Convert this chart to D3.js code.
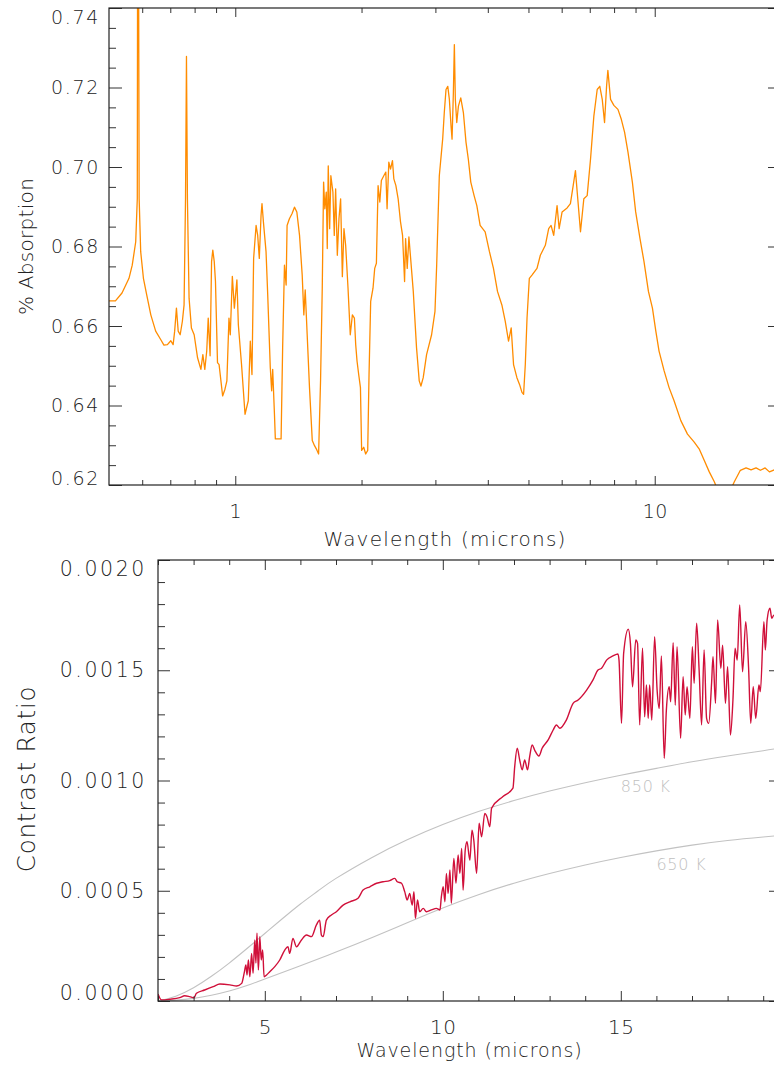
<!DOCTYPE html>
<html>
<head>
<meta charset="utf-8">
<script src="https://cdn.jsdelivr.net/npm/d3@7"></script>
<style>
  body { margin: 0; background: #fff; }
  svg text { font-family: "DejaVu Sans", sans-serif; font-weight: 200; }
</style>
</head>
<body>
<svg id="chart" width="774" height="1068"></svg>
<script>
// Upper panel: absorption spectrum, [wavelength (microns), fraction absorbed]
const absorptionSpectrum = [
  [0.500,0.6663],[0.518,0.6663],[0.537,0.6683],[0.558,0.6720],[0.568,0.6753],[0.579,0.6812],
  [0.584,0.6920],[0.586,0.8200],[0.590,0.6920],[0.595,0.6787],[0.604,0.6720],[0.615,0.6678],
  [0.629,0.6628],[0.646,0.6587],[0.664,0.6566],[0.676,0.6552],[0.689,0.6553],[0.702,0.6563],
  [0.711,0.6553],[0.717,0.6587],[0.724,0.6645],[0.731,0.6587],[0.739,0.6578],[0.748,0.6612],
  [0.755,0.6653],[0.761,0.6920],[0.765,0.7278],[0.769,0.6920],[0.776,0.6670],[0.786,0.6595],
  [0.798,0.6578],[0.813,0.6520],[0.828,0.6491],[0.837,0.6528],[0.846,0.6491],[0.855,0.6537],
  [0.862,0.6620],[0.871,0.6525],[0.878,0.6762],[0.884,0.6791],[0.891,0.6762],[0.897,0.6712],
  [0.907,0.6508],[0.915,0.6503],[0.933,0.6424],[0.945,0.6441],[0.955,0.6462],[0.966,0.6620],
  [0.973,0.6578],[0.984,0.6725],[0.995,0.6645],[1.009,0.6716],[1.017,0.6603],[1.035,0.6503],
  [1.055,0.6378],[1.074,0.6412],[1.086,0.6562],[1.096,0.6478],[1.106,0.6770],[1.121,0.6853],
  [1.131,0.6828],[1.141,0.6770],[1.152,0.6878],[1.158,0.6908],[1.167,0.6862],[1.184,0.6787],
  [1.195,0.6678],[1.212,0.6495],[1.221,0.6437],[1.228,0.6491],[1.240,0.6378],[1.246,0.6316],
  [1.286,0.6316],[1.297,0.6545],[1.310,0.6753],[1.322,0.6703],[1.329,0.6853],[1.346,0.6870],
  [1.366,0.6883],[1.384,0.6899],[1.402,0.6887],[1.423,0.6828],[1.444,0.6728],[1.457,0.6628],
  [1.468,0.6691],[1.484,0.6578],[1.503,0.6445],[1.526,0.6312],[1.545,0.6299],[1.560,0.6291],
  [1.580,0.6278],[1.597,0.6462],[1.612,0.6695],[1.624,0.6962],[1.635,0.6895],[1.648,0.6937],
  [1.657,0.6795],[1.666,0.7003],[1.679,0.6845],[1.690,0.6978],[1.709,0.6937],[1.722,0.6828],
  [1.735,0.6945],[1.751,0.6778],[1.767,0.6870],[1.783,0.6920],[1.800,0.6724],[1.816,0.6845],
  [1.833,0.6803],[1.857,0.6695],[1.880,0.6578],[1.902,0.6628],[1.923,0.6620],[1.937,0.6553],
  [1.951,0.6512],[1.969,0.6478],[1.988,0.6445],[2.001,0.6287],[2.024,0.6295],[2.046,0.6278],
  [2.069,0.6287],[2.084,0.6478],[2.103,0.6662],[2.130,0.6695],[2.150,0.6745],[2.170,0.6758],
  [2.190,0.6953],[2.211,0.6912],[2.230,0.6966],[2.260,0.6978],[2.285,0.6987],[2.301,0.6895],
  [2.323,0.7012],[2.345,0.6995],[2.370,0.7016],[2.388,0.6970],[2.415,0.6953],[2.445,0.6920],
  [2.477,0.6862],[2.505,0.6828],[2.533,0.6712],[2.547,0.6820],[2.570,0.6745],[2.594,0.6824],
  [2.657,0.6687],[2.705,0.6545],[2.745,0.6462],[2.771,0.6449],[2.806,0.6470],[2.858,0.6528],
  [2.938,0.6578],[2.993,0.6637],[3.021,0.6753],[3.065,0.6978],[3.122,0.7070],[3.150,0.7137],
  [3.180,0.7195],[3.211,0.7203],[3.239,0.7170],[3.269,0.7103],[3.287,0.7070],[3.311,0.7187],
  [3.329,0.7308],[3.347,0.7170],[3.373,0.7112],[3.404,0.7153],[3.448,0.7174],[3.498,0.7137],
  [3.549,0.7062],[3.594,0.7020],[3.643,0.6962],[3.710,0.6928],[3.766,0.6903],[3.835,0.6853],
  [3.942,0.6837],[4.036,0.6787],[4.126,0.6745],[4.218,0.6687],[4.321,0.6653],[4.401,0.6612],
  [4.482,0.6562],[4.548,0.6595],[4.607,0.6503],[4.693,0.6470],[4.761,0.6453],[4.825,0.6433],
  [4.868,0.6428],[4.914,0.6503],[4.961,0.6620],[5.024,0.6720],[5.097,0.6728],[5.240,0.6745],
  [5.337,0.6778],[5.485,0.6803],[5.587,0.6845],[5.661,0.6853],[5.743,0.6828],[5.850,0.6903],
  [5.917,0.6845],[6.014,0.6887],[6.182,0.6897],[6.295,0.6908],[6.391,0.6953],[6.471,0.6991],
  [6.554,0.6920],[6.653,0.6837],[6.776,0.6920],[6.902,0.6928],[7.030,0.7020],[7.159,0.7128],
  [7.292,0.7195],[7.397,0.7203],[7.497,0.7170],[7.592,0.7112],[7.677,0.7203],[7.732,0.7243],
  [7.847,0.7170],[7.991,0.7155],[8.171,0.7145],[8.324,0.7120],[8.476,0.7087],[8.636,0.7037],
  [8.845,0.6962],[9.007,0.6887],[9.223,0.6820],[9.428,0.6762],[9.660,0.6687],[9.875,0.6645],
  [10.06,0.6587],[10.24,0.6537],[10.53,0.6487],[10.82,0.6445],[11.12,0.6412],[11.54,0.6362],
  [11.97,0.6328],[12.42,0.6308],[12.76,0.6291],[13.12,0.6262],[13.49,0.6233],[13.87,0.6208],
  [14.60,0.6150],[15.48,0.6208],[16.00,0.6237],[16.51,0.6243],[16.97,0.6238],[17.44,0.6243],
  [17.86,0.6237],[18.33,0.6243],[18.77,0.6233],[19.29,0.6238],[20.00,0.6240]
];

// Lower panel: planet/star contrast ratio, [wavelength (microns), ratio]
const contrastSpectrum = [
  [2.00,0.000032],[2.10,0.000005],[2.33,0.000008],[2.61,0.000015],[2.75,0.000024],[2.89,0.000020],
  [3.01,0.000015],[3.08,0.000035],[3.31,0.000050],[3.55,0.000065],[3.74,0.000077],[4.02,0.000073],
  [4.21,0.000068],[4.35,0.000080],[4.42,0.000126],[4.47,0.000163],[4.50,0.000118],[4.54,0.000186],
  [4.58,0.000110],[4.63,0.000216],[4.67,0.000126],[4.72,0.000277],[4.75,0.000172],[4.78,0.000307],
  [4.82,0.000141],[4.86,0.000292],[4.90,0.000186],[4.94,0.000231],[4.98,0.000110],[5.05,0.000118],
  [5.14,0.000133],[5.28,0.000156],[5.42,0.000186],[5.56,0.000231],[5.65,0.000246],[5.70,0.000216],
  [5.79,0.000284],[5.89,0.000246],[6.03,0.000277],[6.17,0.000299],[6.31,0.000292],[6.45,0.000345],
  [6.54,0.000367],[6.59,0.000299],[6.64,0.000292],[6.73,0.000367],[6.87,0.000390],[7.01,0.000405],
  [7.20,0.000435],[7.39,0.000450],[7.62,0.000466],[7.76,0.000503],[7.95,0.000518],[8.14,0.000534],
  [8.32,0.000541],[8.51,0.000546],[8.65,0.000556],[8.72,0.000541],[8.84,0.000534],[8.93,0.000496],
  [9.00,0.000458],[9.07,0.000488],[9.14,0.000435],[9.19,0.000496],[9.23,0.000375],[9.29,0.000458],
  [9.35,0.000405],[9.45,0.000420],[9.54,0.000405],[9.68,0.000413],[9.82,0.000420],[9.92,0.000413],
  [9.96,0.000473],[10.01,0.000518],[10.06,0.000450],[10.10,0.000579],[10.15,0.000488],[10.20,0.000594],
  [10.24,0.000443],[10.31,0.000647],[10.37,0.000534],[10.43,0.000662],[10.48,0.000579],[10.53,0.000692],
  [10.57,0.000503],[10.63,0.000685],[10.68,0.000722],[10.76,0.000639],[10.82,0.000775],[10.87,0.000730],
  [10.95,0.000579],[11.02,0.000806],[11.09,0.000745],[11.18,0.000851],[11.24,0.000836],[11.32,0.000790],
  [11.37,0.000874],[11.69,0.000927],[11.97,0.000965],[12.02,0.001063],[12.09,0.001146],[12.16,0.001093],
  [12.23,0.001048],[12.30,0.001093],[12.38,0.001048],[12.44,0.001108],[12.51,0.001161],[12.58,0.001138],
  [12.70,0.001111],[12.79,0.001146],[12.96,0.001184],[13.10,0.001229],[13.19,0.001252],[13.29,0.001237],
  [13.47,0.001274],[13.66,0.001350],[13.80,0.001365],[14.04,0.001410],[14.22,0.001456],[14.36,0.001501],
  [14.46,0.001509],[14.60,0.001546],[14.78,0.001565],[14.92,0.001574],[14.95,0.001546],[15.02,0.001259],
  [15.08,0.001577],[15.21,0.001686],[15.27,0.001622],[15.33,0.001425],[15.42,0.001637],[15.47,0.001622],
  [15.53,0.001252],[15.61,0.001600],[15.67,0.001289],[15.72,0.001433],[15.77,0.001282],[15.81,0.001433],
  [15.87,0.001274],[15.95,0.001652],[16.02,0.001410],[16.08,0.001327],[16.14,0.001565],[16.22,0.001101],
  [16.28,0.001320],[16.36,0.001425],[16.40,0.001357],[16.47,0.001625],[16.53,0.001342],[16.58,0.001607],
  [16.68,0.001191],[16.75,0.001471],[16.81,0.001297],[16.86,0.001425],[16.94,0.001282],[17.01,0.001607],
  [17.06,0.001441],[17.13,0.001713],[17.20,0.001501],[17.27,0.001252],[17.34,0.001592],[17.41,0.001282],
  [17.47,0.001259],[17.55,0.001441],[17.59,0.001561],[17.66,0.001350],[17.72,0.001728],[17.81,0.001509],
  [17.86,0.001614],[17.94,0.001350],[18.00,0.001516],[18.08,0.001206],[18.15,0.001365],[18.21,0.001600],
  [18.27,0.001546],[18.34,0.001796],[18.42,0.001493],[18.51,0.001720],[18.59,0.001509],[18.65,0.001259],
  [18.72,0.001425],[18.79,0.001282],[18.88,0.001433],[18.92,0.001403],[19.02,0.001720],[19.06,0.001592],
  [19.11,0.001728],[19.19,0.001781],[19.24,0.001736],[19.30,0.001750],[19.50,0.001745]
];

// Blackbody reference curves, [wavelength (microns), ratio]
const blackbody850 = [
  [2.0,0.000000],[2.5,0.000022],[3.0,0.000060],[3.5,0.000112],[4.0,0.000172],[4.5,0.000238],
  [5.0,0.000306],[5.5,0.000374],[6.0,0.000440],[6.5,0.000500],[7.0,0.000556],[8.0,0.000650],
  [9.0,0.000731],[10.0,0.000800],[11.0,0.000859],[12.0,0.000909],[13.0,0.000952],[14.0,0.000990],
  [15.0,0.001024],[16.0,0.001055],[17.0,0.001085],[18.0,0.001111],[19.0,0.001135],[19.5,0.001148]
];
const blackbody650 = [
  [2.0,0.000000],[2.5,0.000004],[3.0,0.000012],[3.5,0.000026],[4.0,0.000045],[4.5,0.000070],
  [5.0,0.000100],[6.0,0.000160],[7.0,0.000222],[8.0,0.000287],[9.0,0.000355],[10.0,0.000422],
  [11.0,0.000482],[12.0,0.000534],[13.0,0.000578],[14.0,0.000617],[15.0,0.000651],[16.0,0.000681],
  [17.0,0.000707],[18.0,0.000728],[19.0,0.000744],[19.5,0.000751]
];
const curveLabels = [
  { text: "850 K", wavelength: 15.0, value: 0.000948 },
  { text: "650 K", wavelength: 16.0, value: 0.000594 }
];

// Tick values
const absTicksMajor = [0.62, 0.64, 0.66, 0.68, 0.70, 0.72, 0.74];
const absTicksMinor = d3.range(0.625, 0.74, 0.005).filter(v => Math.abs(v * 50 - Math.round(v * 50)) > 1e-6);
const logTicksMajor = [1, 10];
const logTicksMinor = [0.6, 0.7, 0.8, 0.9, 2, 3, 4, 5, 6, 7, 8, 9, 20];
const contrastTicksMajor = [0, 0.0005, 0.0010, 0.0015, 0.0020];
const contrastTicksMinor = d3.range(0.0001, 0.002, 0.0001).filter(v => Math.abs(v / 0.0005 - Math.round(v / 0.0005)) > 1e-6);
const linTicksMajor = [5, 10, 15];
const linTicksMinor = [2, 3, 4, 6, 7, 8, 9, 11, 12, 13, 14, 16, 17, 18, 19];

const svg = d3.select("#chart");
const ink = "#222";

function frameAxes(g, x, y, box, o) {
  const styleAxis = a => {
    a.select(".domain").remove();
    a.attr("font-family", null).attr("font-size", null).attr("color", ink);
    a.selectAll("line").attr("stroke", "#333").attr("stroke-width", 1);
  };
  // y axis: left with labels, right mirrored
  g.append("g").attr("transform", `translate(${box.left},0)`)
    .call(d3.axisLeft(y).tickValues(o.yMajor).tickSize(-o.yMaj).tickSizeOuter(0)
      .tickPadding(o.yPad).tickFormat(o.yFmt))
    .call(styleAxis)
    .call(a => a.selectAll("text")
      .style("font-size", o.yFont + "px").style("letter-spacing", o.yLs + "px")
      .attr("y", d => d === o.yMajor[o.yMajor.length - 1] ? o.yTopShift : d === o.yMajor[0] ? o.yBotShift : 0));
  g.append("g").attr("transform", `translate(${box.left},0)`)
    .call(d3.axisLeft(y).tickValues(o.yMinor).tickSize(-o.yMin).tickSizeOuter(0).tickFormat(""))
    .call(styleAxis);
  g.append("g").attr("transform", `translate(${box.right},0)`)
    .call(d3.axisRight(y).tickValues(o.yMajor).tickSize(-o.yMaj).tickSizeOuter(0).tickFormat(""))
    .call(styleAxis);
  g.append("g").attr("transform", `translate(${box.right},0)`)
    .call(d3.axisRight(y).tickValues(o.yMinor).tickSize(-o.yMin).tickSizeOuter(0).tickFormat(""))
    .call(styleAxis);
  // x axis: bottom with labels, top mirrored
  g.append("g").attr("transform", `translate(0,${box.bottom})`)
    .call(d3.axisBottom(x).tickValues(o.xMajor).tickSize(-o.xMaj).tickSizeOuter(0)
      .tickPadding(o.xPad).tickFormat(d => String(d)))
    .call(styleAxis)
    .call(a => a.selectAll("text").style("font-size", o.xFont + "px").style("letter-spacing", o.xLs + "px"));
  g.append("g").attr("transform", `translate(0,${box.bottom})`)
    .call(d3.axisBottom(x).tickValues(o.xMinor).tickSize(-o.xMin).tickSizeOuter(0).tickFormat(""))
    .call(styleAxis);
  g.append("g").attr("transform", `translate(0,${box.top})`)
    .call(d3.axisTop(x).tickValues(o.xMajor).tickSize(-o.xMaj).tickSizeOuter(0).tickFormat(""))
    .call(styleAxis);
  g.append("g").attr("transform", `translate(0,${box.top})`)
    .call(d3.axisTop(x).tickValues(o.xMinor).tickSize(-o.xMin).tickSizeOuter(0).tickFormat(""))
    .call(styleAxis);
  // frame
  g.append("rect")
    .attr("x", box.left).attr("y", box.top)
    .attr("width", box.right - box.left).attr("height", box.bottom - box.top)
    .attr("fill", "none").attr("stroke", ink).attr("stroke-width", 1.2);
}

// ---------- Upper panel ----------
const topBox = { left: 109, right: 781, top: 8, bottom: 485 };
const xTop = d3.scaleLog().domain([0.5, 20]).range([topBox.left, topBox.right]);
const yTop = d3.scaleLinear().domain([0.62, 0.74]).range([topBox.bottom, topBox.top]);

svg.append("clipPath").attr("id", "clip-top").append("rect")
  .attr("x", topBox.left).attr("y", topBox.top)
  .attr("width", topBox.right - topBox.left).attr("height", topBox.bottom - topBox.top);

const gTop = svg.append("g");
gTop.append("path")
  .datum(absorptionSpectrum)
  .attr("clip-path", "url(#clip-top)")
  .attr("fill", "none").attr("stroke", "#ff8c00").attr("stroke-width", 1.3)
  .attr("stroke-linejoin", "round")
  .attr("d", d3.line().x(d => xTop(d[0])).y(d => yTop(d[1])));

frameAxes(gTop, xTop, yTop, topBox, {
  yMajor: absTicksMajor, yMinor: absTicksMinor, yMaj: 13, yMin: 7, yPad: 9,
  yFmt: d3.format(".2f"), yFont: 19, yLs: 1.7, yTopShift: 9, yBotShift: -7,
  xMajor: logTicksMajor, xMinor: logTicksMinor, xMaj: 9, xMin: 5, xPad: 20,
  xFont: 19, xLs: 0.5
});

gTop.append("text")
  .attr("x", (topBox.left + topBox.right) / 2).attr("y", 546)
  .attr("text-anchor", "middle").attr("fill", ink)
  .style("font-size", "20px").style("letter-spacing", "1.2px")
  .text("Wavelength (microns)");
gTop.append("text")
  .attr("transform", `translate(33,${(topBox.top + topBox.bottom) / 2}) rotate(-90)`)
  .attr("text-anchor", "middle").attr("fill", ink)
  .style("font-size", "20px").style("letter-spacing", "0.3px")
  .text("% Absorption");

// ---------- Lower panel ----------
const botBox = { left: 158, right: 781, top: 560, bottom: 1001 };
const xBot = d3.scaleLinear().domain([2, 19.5]).range([botBox.left, botBox.right]);
const yBot = d3.scaleLinear().domain([0, 0.002]).range([botBox.bottom, botBox.top]);

svg.append("clipPath").attr("id", "clip-bot").append("rect")
  .attr("x", botBox.left).attr("y", botBox.top)
  .attr("width", botBox.right - botBox.left).attr("height", botBox.bottom - botBox.top);

const gBot = svg.append("g");
const lineSmooth = d3.line().x(d => xBot(d[0])).y(d => yBot(d[1])).curve(d3.curveNatural);
const lineSpectrum = d3.line().x(d => xBot(d[0])).y(d => yBot(d[1])).curve(d3.curveMonotoneX);

[blackbody850, blackbody650].forEach(series => {
  gBot.append("path")
    .datum(series)
    .attr("clip-path", "url(#clip-bot)")
    .attr("fill", "none").attr("stroke", "#c2c2c2").attr("stroke-width", 1.1)
    .attr("d", lineSmooth);
});

gBot.append("path")
  .datum(contrastSpectrum)
  .attr("clip-path", "url(#clip-bot)")
  .attr("fill", "none").attr("stroke", "#d0103a").attr("stroke-width", 1.4)
  .attr("stroke-linejoin", "round")
  .attr("d", lineSpectrum);

gBot.selectAll("text.bb-label")
  .data(curveLabels)
  .join("text")
  .attr("class", "bb-label")
  .attr("x", d => xBot(d.wavelength)).attr("y", d => yBot(d.value))
  .attr("fill", "#c0c0c0")
  .style("font-size", "16px").style("letter-spacing", "0.8px")
  .text(d => d.text);

frameAxes(gBot, xBot, yBot, botBox, {
  yMajor: contrastTicksMajor, yMinor: contrastTicksMinor, yMaj: 12, yMin: 7, yPad: 11,
  yFmt: d3.format(".4f"), yFont: 20.5, yLs: 2.6, yTopShift: 9, yBotShift: -8,
  xMajor: linTicksMajor, xMinor: linTicksMinor, xMaj: 10, xMin: 5, xPad: 19,
  xFont: 20, xLs: 0.5
});

gBot.append("text")
  .attr("x", (botBox.left + botBox.right) / 2).attr("y", 1057)
  .attr("text-anchor", "middle").attr("fill", ink)
  .style("font-size", "19px").style("letter-spacing", "0.9px")
  .text("Wavelength (microns)");
gBot.append("text")
  .attr("transform", `translate(35,779) rotate(-90)`)
  .attr("text-anchor", "middle").attr("fill", ink)
  .style("font-size", "24.5px").style("letter-spacing", "0.8px")
  .text("Contrast Ratio");
</script>
</body>
</html>
